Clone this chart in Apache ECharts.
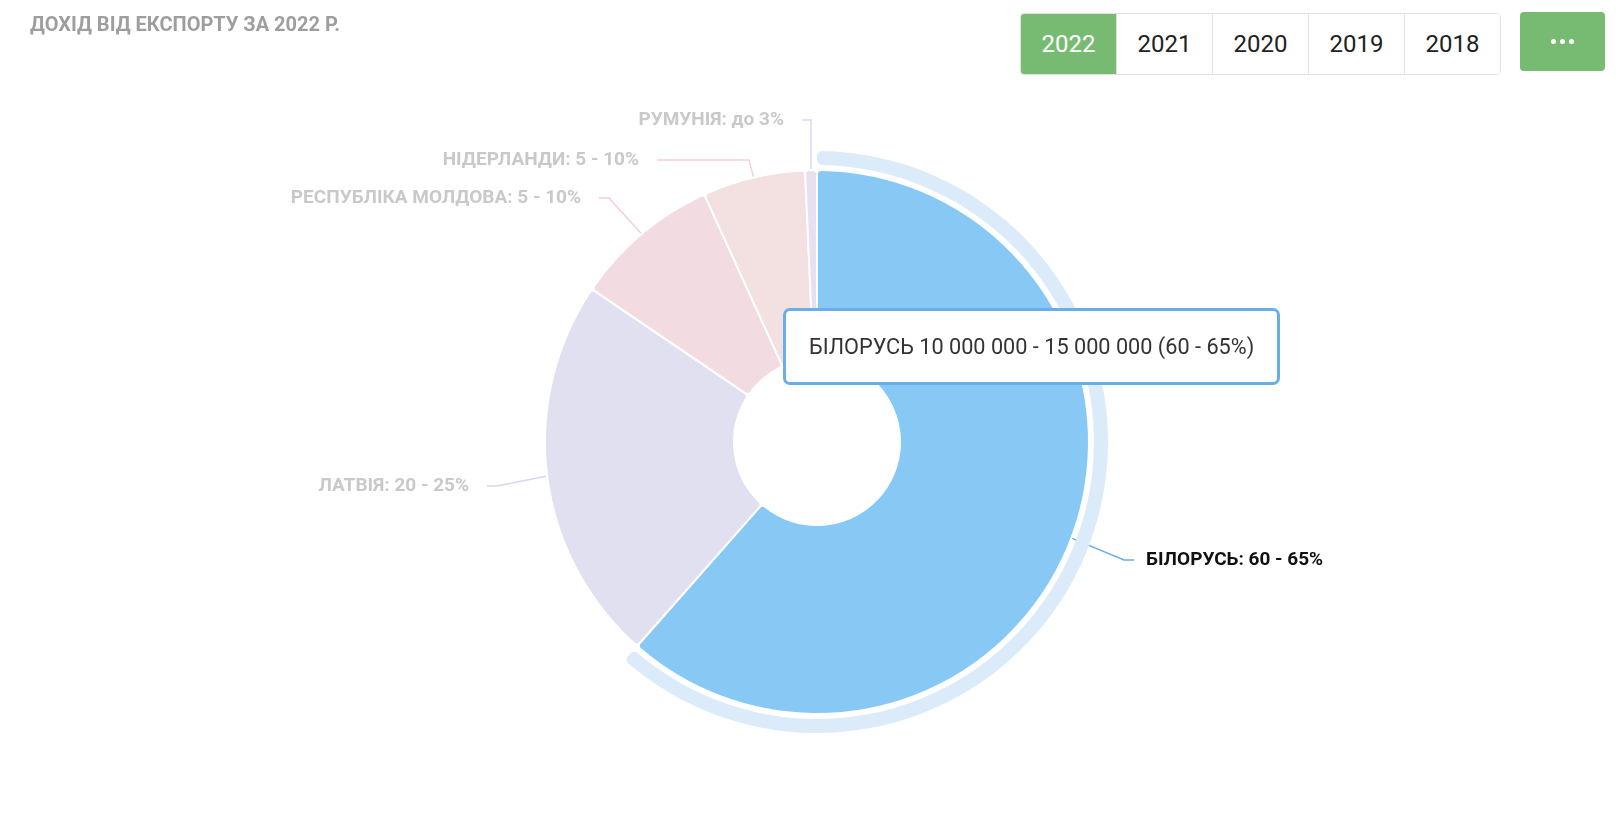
<!DOCTYPE html>
<html>
<head>
<meta charset="utf-8">
<script src="https://cdn.jsdelivr.net/npm/echarts@6/dist/echarts.min.js"></script>
<style>
  html, body { margin: 0; padding: 0; background: #fff; }
  #chart { position: absolute; left: 0; top: 0; width: 1616px; height: 814px; }
  .years { position: absolute; left: 1020px; top: 13px; display: flex; border: 1px solid #e2e2e2; border-radius: 4px; overflow: hidden; }
  .years div { width: 95px; height: 60px; line-height: 60px; text-align: center; font-family: Roboto, sans-serif; font-size: 24px; color: #222; border-left: 1px solid #e2e2e2; background: #fff; }
  .years div:first-child { border-left: none; }
  .years div.active { background: #77bb73; color: #fff; }
  .more { position: absolute; left: 1520px; top: 12px; width: 85px; height: 59px; background: #77bb73; border-radius: 4px; display: flex; align-items: center; justify-content: center; gap: 4px; }
  .more span { width: 5px; height: 5px; border-radius: 50%; background: #fff; display: block; }
</style>
</head>
<body>
<div id="chart"></div>
<div class="years" id="years"></div>
<div class="more"><span></span><span></span><span></span></div>
<script>
const titleText = 'ДОХІД ВІД ЕКСПОРТУ ЗА 2022 Р.';
const years = ['2022', '2021', '2020', '2019', '2018'];
const countries = ['БІЛОРУСЬ', 'ЛАТВІЯ', 'РЕСПУБЛІКА МОЛДОВА', 'НІДЕРЛАНДИ', 'РУМУНІЯ'];
const shares = [61.5, 23.0, 8.7, 6.1, 0.7];
const shareLabels = ['60 - 65%', '20 - 25%', '5 - 10%', '5 - 10%', 'до 3%'];
const amountLabels = ['10 000 000 - 15 000 000', '', '', '', ''];

// styling / layout (not data)
const sliceColors = ['#87c9f4', '#e0e0f0', '#f2dce2', '#f3e0e0', '#e8dff0'];
const lineColors = ['#6aaee8', '#d6d6ee', '#f0d0d8', '#f3d2d2', '#e2d6ee'];
const labelPads = [12, 18, 18, 18, 18];
const lineLen2 = [10, 10, 10, 92, 10];
const CX = 817, CY = 442;
// label anchor offsets relative to the pie centre
const labelOffsets = [[317, 118], [-330, 44], [-218, -244], [-160, -282], [-15, -322]];

const yearsEl = document.getElementById('years');
years.forEach((y, i) => {
  const d = document.createElement('div');
  d.textContent = y;
  if (i === 0) d.className = 'active';
  yearsEl.appendChild(d);
});

const chart = echarts.init(document.getElementById('chart'), null, { renderer: 'canvas' });

const mainData = countries.map((c, i) => ({
  name: c,
  value: shares[i],
  itemStyle: { color: sliceColors[i] },
  label: { color: i === 0 ? '#111111' : '#c9c9c9', padding: [0, labelPads[i]] },
  labelLine: { length2: lineLen2[i], lineStyle: { color: lineColors[i] } }
}));

const ringData = countries.map((c, i) => ({
  name: c,
  value: shares[i],
  itemStyle: { color: i === 0 ? '#dcebf9' : 'rgba(0,0,0,0)' }
}));

chart.setOption({
  animation: false,
  title: {
    text: titleText,
    left: 25,
    top: 11,
    textStyle: { fontFamily: 'Roboto', fontSize: 20, fontWeight: 'bold', color: '#9e9e9e' }
  },
  tooltip: {
    trigger: 'item',
    triggerOn: 'none',
    alwaysShowContent: true,
    position: [783, 308],
    backgroundColor: '#ffffff',
    borderColor: '#6aaee8',
    borderWidth: 3,
    borderRadius: 7,
    padding: [19, 23],
    extraCssText: 'box-shadow:none;',
    textStyle: { fontFamily: 'Roboto', fontSize: 21.7, color: '#333333' },
    formatter: function (p) {
      return countries[p.dataIndex] + ' ' + amountLabels[p.dataIndex] + ' (' + shareLabels[p.dataIndex] + ')';
    }
  },
  series: [
    {
      type: 'pie',
      name: 'ring',
      silent: true,
      center: [CX, CY],
      radius: [277, 291],
      startAngle: 90,
      label: { show: false },
      labelLine: { show: false },
      itemStyle: { borderRadius: 5 },
      emphasis: { disabled: true },
      tooltip: { show: false },
      data: ringData
    },
    {
      type: 'pie',
      name: 'main',
      center: [CX, CY],
      radius: [83, 272],
      startAngle: 90,
      itemStyle: { borderColor: '#ffffff', borderWidth: 2, borderRadius: 4 },
      emphasis: { disabled: true },
      label: {
        show: true,
        position: 'outside',
        fontFamily: 'Roboto',
        fontSize: 19,
        fontWeight: 'bold',
        backgroundColor: 'transparent',
        formatter: function (p) { return countries[p.dataIndex] + ': ' + shareLabels[p.dataIndex]; }
      },
      labelLine: { show: true, length: 30, length2: 10, lineStyle: { width: 1.5 } },
      labelLayout: function (params) {
        const o = labelOffsets[params.dataIndex];
        return { x: CX + o[0], y: CY + o[1] };
      },
      data: mainData
    }
  ]
});

chart.dispatchAction({ type: 'showTip', seriesIndex: 1, dataIndex: 0 });
</script>
</body>
</html>
